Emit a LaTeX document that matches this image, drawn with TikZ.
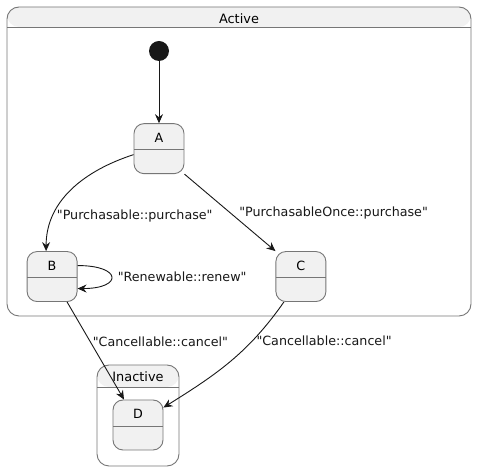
\documentclass[tikz,border=0pt]{standalone}
\usepackage{fontspec}
\setmainfont{DejaVu Sans}
\usepackage{tikz}
\usetikzlibrary{arrows.meta, positioning}
\definecolor{stateFill}{RGB}{241,241,241}
\definecolor{frameLine}{RGB}{118,118,118}
\definecolor{ink}{RGB}{24,24,24}
\newcommand{\qt}[1]{\textquotedbl#1\textquotedbl}
\tikzset{
  stateBox/.style={
    draw=frameLine,
    line width=0.9pt,
    rounded corners=10pt,
    fill=stateFill,
    minimum width=50pt,
    inner xsep=0pt,
    inner ysep=0pt,
    text height=18.6pt,
    text depth=31.4pt,
    font=\fontsize{12.7pt}{15pt}\selectfont,
    path picture={
      \draw[frameLine, line width=0.9pt]
        ([yshift=-26pt]path picture bounding box.north west) --
        ([yshift=-26pt]path picture bounding box.north east);
    }
  },
  compositeBox/.style={
    draw=frameLine,
    line width=0.9pt,
    rounded corners=12pt,
    fill=white,
    inner xsep=0pt,
    inner ysep=0pt,
    text height=16.7pt,
    font=\fontsize{12.9pt}{15pt}\selectfont,
    path picture={
      \fill[stateFill] (path picture bounding box.north west) rectangle
        ([yshift=-#1]path picture bounding box.north east);
      \draw[frameLine, line width=0.9pt]
        ([yshift=-#1]path picture bounding box.north west) --
        ([yshift=-#1]path picture bounding box.north east);
    }
  },
  startDot/.style={circle, fill=ink, minimum size=20pt, inner sep=0pt},
  trans/.style={-{Stealth[length=9pt,width=8pt,inset=3pt]}, line width=0.9pt, draw=ink},
  edgeLabel/.style={font=\fontsize{12.7pt}{15pt}\selectfont, inner sep=0pt, text=ink}
}
\begin{document}
\begin{tikzpicture}[x=1pt, y=1pt]
  \useasboundingbox (0,0) rectangle (477,471);

  % composite states
  \node[compositeBox=20pt, minimum width=464pt, minimum height=309pt, text depth=292.3pt] (active) at (239,309.5) {Active};
  \node[compositeBox=22pt, minimum width=82pt, minimum height=101pt, text depth=84.3pt] (inactive) at (138,55.5) {Inactive};

  % simple states
  \node[startDot] (init) at (159,420) {};
  \node[stateBox, below=62pt of init] (A) {A};
  \node[stateBox, below left=77pt and 56pt of A] (B) {B};
  \node[stateBox, below right=77pt and 91pt of A] (C) {C};
  \node[stateBox] (D) at (138,46) {D};

  \draw[trans] (init) -- (A);
  \draw[trans] ([yshift=-6pt]A.west) to[out=198, in=90]
    node[edgeLabel, pos=0.74, right=3pt] {\qt{Purchasable::purchase}} ([xshift=-6pt]B.north);
  \draw[trans] (A.south east) --
    node[edgeLabel, pos=0.5, right=9pt] {\qt{PurchasableOnce::purchase}} (C.north west);
  \draw[trans] ([yshift=11pt]B.east) .. controls +(45,0) and +(45,0) ..
    node[edgeLabel, pos=0.5, right=6pt] {\qt{Renewable::renew}} ([yshift=-12pt]B.east);
  \draw[trans] ([xshift=15pt]B.south) --
    node[edgeLabel, pos=0.41, right=2pt] {\qt{Cancellable::cancel}} ([xshift=-14pt]D.north);
  \draw[trans] ([xshift=-17pt]C.south) to[out=235, in=32]
    node[edgeLabel, pos=0.3, right=4pt] {\qt{Cancellable::cancel}} ([yshift=-8pt]D.north east);
\end{tikzpicture}
\end{document}
